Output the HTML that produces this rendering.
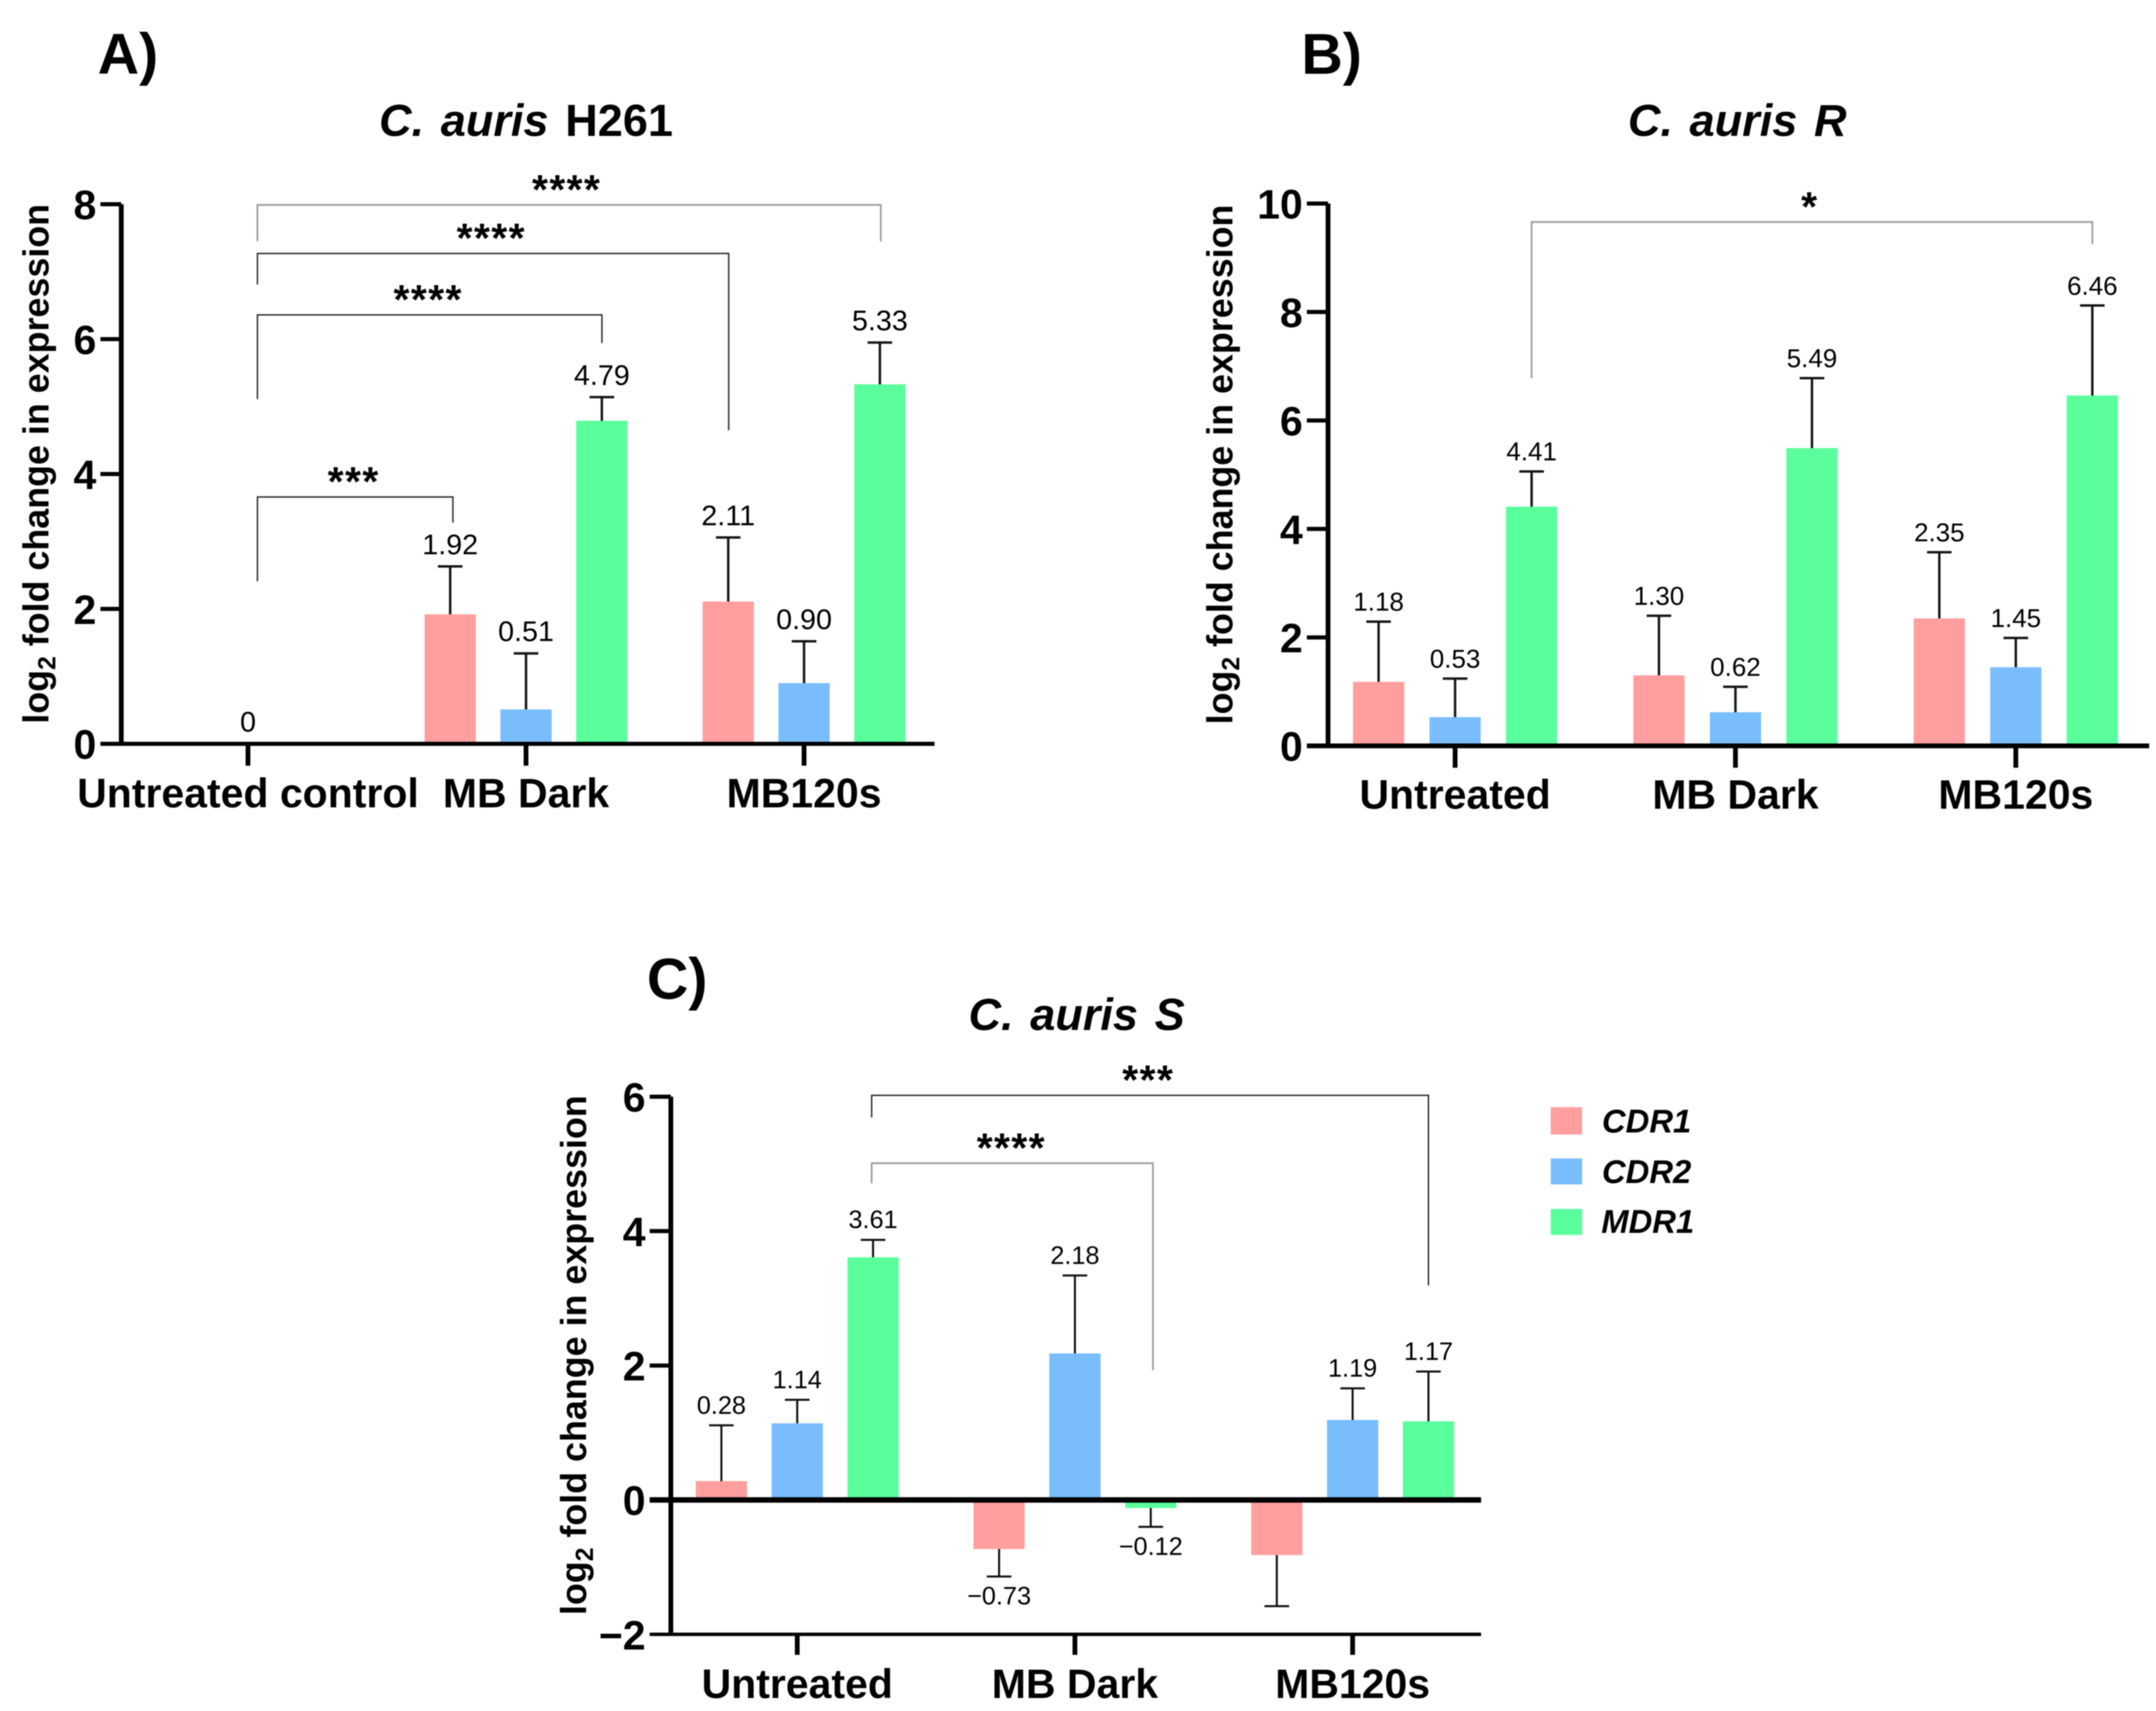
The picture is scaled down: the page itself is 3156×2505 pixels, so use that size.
<!DOCTYPE html>
<html lang="en">
<head>
<meta charset="utf-8">
<title>C. auris gene expression</title>
<style>
html,body{margin:0;padding:0;background:#fff;}
svg{display:block;filter:blur(0.7px);}
text{font-family:"Liberation Sans",Arial,sans-serif;fill:#000;}
.title{font-weight:700;font-size:66px;word-spacing:6px;text-anchor:middle;}
.panel-letter{font-weight:700;font-size:84px;}
.ytitle{font-weight:700;font-size:52.5px;text-anchor:middle;}
.legend-text{font-weight:700;font-style:italic;font-size:48px;}
</style>
</head>
<body>
<svg id="figure" xmlns="http://www.w3.org/2000/svg" width="3156" height="2505" viewBox="0 0 3156 2505">
  <rect x="0" y="0" width="3156" height="2505" fill="#ffffff"/>

  <g id="panel-a">
    <text class="panel-letter" x="143" y="108">A)</text>
    <text class="title" x="770" y="199"><tspan font-style="italic">C. auris</tspan> H261</text>
    <text class="ytitle" transform="translate(71,679) rotate(-90)">log<tspan font-size="36" dy="10">2</tspan><tspan dy="-10"> fold change in expression</tspan></text>
  </g>

  <g id="panel-b">
    <text class="panel-letter" x="1905" y="108">B)</text>
    <text class="title" x="2543" y="199" font-style="italic">C. auris R</text>
    <text class="ytitle" transform="translate(1804,680) rotate(-90)">log<tspan font-size="36" dy="10">2</tspan><tspan dy="-10"> fold change in expression</tspan></text>
  </g>

  <g id="panel-c">
    <text class="panel-letter" x="947" y="1462">C)</text>
    <text class="title" x="1576" y="1508" font-style="italic">C. auris S</text>
    <text class="ytitle" transform="translate(858,1984) rotate(-90)">log<tspan font-size="36" dy="10">2</tspan><tspan dy="-10"> fold change in expression</tspan></text>
  </g>

  <g id="legend">
    <g>
      <rect x="2270" y="1621" width="46" height="40" fill="#FF9E9E"/>
      <text class="legend-text" x="2345" y="1658">CDR1</text>
    </g>
    <g>
      <rect x="2270" y="1696" width="46" height="38" fill="#7ABDFD"/>
      <text class="legend-text" x="2345" y="1732">CDR2</text>
    </g>
    <g>
      <rect x="2270" y="1770" width="46" height="38" fill="#5AFF9C"/>
      <text class="legend-text" x="2344" y="1805">MDR1</text>
    </g>
  </g>
</svg>

<script>
// ---------- Panel A data ----------
const aCategories = ["Untreated control", "MB Dark", "MB120s"];
const aYTicks = [0, 2, 4, 6, 8];
const aCDR1 = [0, 1.92, 2.11];
const aCDR2 = [0, 0.51, 0.90];
const aMDR1 = [0, 4.79, 5.33];
const aCDR1Err = [null, 2.63, 3.06];
const aCDR2Err = [null, 1.34, 1.52];
const aMDR1Err = [null, 5.14, 5.95];
const aCDR1Labels = [null, "1.92", "2.11"];
const aCDR2Labels = ["0", "0.51", "0.90"];
const aMDR1Labels = [null, "4.79", "5.33"];
const aBrackets = [
  {stars: "***",  from: 0.034, to: 0.737, top: 3.66, fromEnd: 2.41, toEnd: 3.28, mid: 0.380},
  {stars: "****", from: 0.034, to: 1.273, top: 6.36, fromEnd: 5.11, toEnd: 5.94, mid: 0.648},
  {stars: "****", from: 0.034, to: 1.729, top: 7.27, fromEnd: 6.81, toEnd: 4.65, mid: 0.875},
  {stars: "****", from: 0.034, to: 2.276, top: 7.99, fromEnd: 7.45, toEnd: 7.45, mid: 1.146}
];

// ---------- Panel B data ----------
const bCategories = ["Untreated", "MB Dark", "MB120s"];
const bYTicks = [0, 2, 4, 6, 8, 10];
const bCDR1 = [1.18, 1.30, 2.35];
const bCDR2 = [0.53, 0.62, 1.45];
const bMDR1 = [4.41, 5.49, 6.46];
const bCDR1Err = [2.29, 2.40, 3.57];
const bCDR2Err = [1.24, 1.09, 1.99];
const bMDR1Err = [5.06, 6.78, 8.12];
const bCDR1Labels = ["1.18", "1.30", "2.35"];
const bCDR2Labels = ["0.53", "0.62", "1.45"];
const bMDR1Labels = ["4.41", "5.49", "6.46"];
const bBrackets = [
  {stars: "*", from: 0.273, to: 2.273, top: 9.66, fromEnd: 6.78, toEnd: 9.25, mid: 1.265}
];

// ---------- Panel C data ----------
const cCategories = ["Untreated", "MB Dark", "MB120s"];
const cYTicks = [-2, 0, 2, 4, 6];
const cCDR1 = [0.28, -0.73, -0.82];
const cCDR2 = [1.14, 2.18, 1.19];
const cMDR1 = [3.61, -0.12, 1.17];
const cCDR1Err = [1.11, -1.14, -1.58];
const cCDR2Err = [1.49, 3.34, 1.66];
const cMDR1Err = [3.87, -0.40, 1.91];
const cCDR1Labels = ["0.28", "\u22120.73", null];
const cCDR2Labels = ["1.14", "2.18", "1.19"];
const cMDR1Labels = ["3.61", "\u22120.12", "1.17"];
const cBrackets = [
  {stars: "***",  from: 0.268, to: 2.273, top: 6.02, fromEnd: 5.69, toEnd: 3.19, mid: 1.264},
  {stars: "****", from: 0.268, to: 1.281, top: 5.01, fromEnd: 4.71, toEnd: 1.93, mid: 0.771}
];

const seriesNames = ["cdr1", "cdr2", "mdr1"];

// ---------- Drawing ----------
const SVG_NS = "http://www.w3.org/2000/svg";

function addBar(parent, name, x, y, w, h, fill) {
  const el = document.createElementNS(SVG_NS, "rect");
  
  
  el.setAttribute("x", x);
  el.setAttribute("y", y);
  el.setAttribute("width", w);
  el.setAttribute("height", h);
  el.setAttribute("fill", fill);
  parent.appendChild(el);
  return el;
}

function addLine(parent, name, x1, y1, x2, y2, width, color) {
  const el = document.createElementNS(SVG_NS, "line");
  
  
  el.setAttribute("x1", x1);
  el.setAttribute("y1", y1);
  el.setAttribute("x2", x2);
  el.setAttribute("y2", y2);
  el.setAttribute("stroke", color);
  el.setAttribute("stroke-width", width);
  parent.appendChild(el);
  return el;
}

function addText(parent, name, x, y, str, size, anchor, bold) {
  const el = document.createElementNS(SVG_NS, "text");
  
  
  el.setAttribute("x", x);
  el.setAttribute("y", y);
  el.setAttribute("font-size", size);
  el.setAttribute("text-anchor", anchor);
  if (bold) el.setAttribute("font-weight", "700");
  el.textContent = str;
  parent.appendChild(el);
  return el;
}

function addBracketPath(parent, name, d, width, color) {
  const el = document.createElementNS(SVG_NS, "path");
  
  
  el.setAttribute("d", d);
  el.setAttribute("fill", "none");
  el.setAttribute("stroke", color);
  el.setAttribute("stroke-width", width);
  parent.appendChild(el);
  return el;
}

const seriesColors = ["#FF9E9E", "#7ABDFD", "#5AFF9C"];

function drawPanel(p) {
  const g = document.getElementById(p.id);
  const xCat = function (c) { return p.tick0 + c * p.catStep; };
  const xBar = function (c, s) { return xCat(c) + (s - 1) * p.barStep; };
  const yVal = function (v) { return p.y0 - v * p.unit; };
  const barW = 75;

  // bars
  p.values.forEach(function (vals, s) {
    vals.forEach(function (v, c) {
      const top = Math.min(yVal(v), yVal(0));
      const h = Math.abs(yVal(v) - yVal(0));
      addBar(g, "bar-" + seriesNames[s] + "-" + p.categories[c].toLowerCase().replace(/ /g, "-"),
             xBar(c, s) - barW / 2, top, barW, h, seriesColors[s]);
    });
  });

  // error bars and value labels
  p.values.forEach(function (vals, s) {
    vals.forEach(function (v, c) {
      const err = p.errors[s][c];
      const cx = xBar(c, s);
      if (err !== null) {
        addLine(g, "error-stem-" + seriesNames[s], cx, yVal(v), cx, yVal(err), p.stem, "#111");
        addLine(g, "error-cap-" + seriesNames[s], cx - 18, yVal(err), cx + 18, yVal(err), p.stem, "#111");
      }
      const lab = p.labels[s][c];
      if (lab !== null) {
        const ref = err !== null ? yVal(err) : yVal(v);
        const below = v < 0;
        addText(g, "value-label-" + seriesNames[s], cx, below ? ref + 41 : ref - p.labelGap, lab, p.labelSize, "middle", false);
      }
    });
  });

  // significance brackets
  p.brackets.forEach(function (b, i) {
    const gray = p.grayBrackets.indexOf(i) >= 0;
    const d = "M" + xCat(b.from) + " " + yVal(b.fromEnd) +
              " V" + yVal(b.top) +
              " H" + xCat(b.to) +
              " V" + yVal(b.toEnd);
    addBracketPath(g, "significance-bracket", d, gray ? 2.5 : 2, gray ? "#9a9a9a" : "#222");
    const st = addText(g, "significance-stars", xCat(b.mid), yVal(b.top) - 2, b.stars, 60, "middle", true);
    st.setAttribute("letter-spacing", "2");
  });

  // y axis
  const tMin = p.yTicks[0];
  const tMax = p.yTicks[p.yTicks.length - 1];
  addLine(g, "y-axis-line", p.axisX, yVal(tMax), p.axisX, yVal(tMin), 7, "#000");
  p.yTicks.forEach(function (t) {
    if (t !== 0 && t !== tMin) {
      addLine(g, "y-axis-tick", p.tickLeft, yVal(t), p.axisX, yVal(t), 6, "#000");
    }
    addText(g, "y-tick-label", p.tickLabelX, yVal(t) + 22, String(t).replace("-", "\u2212"), 60, "end", true);
  });

  // x axis (drawn at zero; panel C also has a lower frame line)
  addLine(g, "x-axis-line", p.tickLeft, yVal(0), p.axisEnd, yVal(0), p.zeroWidth, "#000");
  if (tMin < 0) {
    addLine(g, "x-axis-bottom-line", p.tickLeft, yVal(tMin), p.axisEnd, yVal(tMin), 5, "#000");
  }
  p.categories.forEach(function (name, c) {
    addLine(g, "x-axis-tick", xCat(c), yVal(tMin), xCat(c), yVal(tMin) + p.tickDown, 7, "#000");
    addText(g, "x-category-label", xCat(c), p.catBaseline, name, 60, "middle", true);
  });
}

drawPanel({
  id: "panel-a", categories: aCategories, yTicks: aYTicks,
  values: [aCDR1, aCDR2, aMDR1], errors: [aCDR1Err, aCDR2Err, aMDR1Err],
  labels: [aCDR1Labels, aCDR2Labels, aMDR1Labels], brackets: aBrackets, grayBrackets: [3],
  tick0: 363, catStep: 407, barStep: 111, y0: 1089, unit: 98.75,
  axisX: 177.5, tickLeft: 147, axisEnd: 1368, tickLabelX: 141, tickDown: 32, catBaseline: 1182,
  stem: 3.5, labelGap: 18, labelSize: 42, zeroWidth: 6
});

drawPanel({
  id: "panel-b", categories: bCategories, yTicks: bYTicks,
  values: [bCDR1, bCDR2, bMDR1], errors: [bCDR1Err, bCDR2Err, bMDR1Err],
  labels: [bCDR1Labels, bCDR2Labels, bMDR1Labels], brackets: bBrackets, grayBrackets: [0],
  tick0: 2130, catStep: 410.4, barStep: 112, y0: 1092, unit: 79.4,
  axisX: 1944, tickLeft: 1913, axisEnd: 3146, tickLabelX: 1907, tickDown: 32, catBaseline: 1184,
  stem: 3.5, labelGap: 16, labelSize: 38, zeroWidth: 7
});

drawPanel({
  id: "panel-c", categories: cCategories, yTicks: cYTicks,
  values: [cCDR1, cCDR2, cMDR1], errors: [cCDR1Err, cCDR2Err, cMDR1Err],
  labels: [cCDR1Labels, cCDR2Labels, cMDR1Labels], brackets: cBrackets, grayBrackets: [1],
  tick0: 1167, catStep: 406.5, barStep: 111, y0: 2196, unit: 98.4,
  axisX: 982, tickLeft: 951, axisEnd: 2168, tickLabelX: 945, tickDown: 30, catBaseline: 2486,
  stem: 3, labelGap: 17, labelSize: 37, zeroWidth: 8
});
</script>
</body>
</html>
